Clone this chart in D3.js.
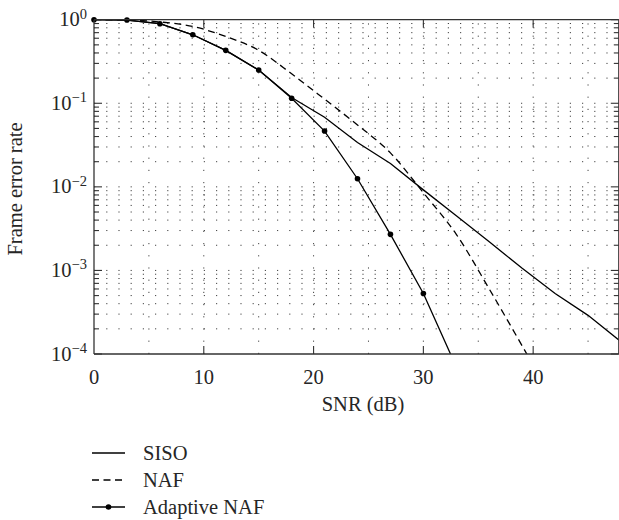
<!DOCTYPE html>
<html>
<head>
<meta charset="utf-8">
<script src="https://cdn.jsdelivr.net/npm/d3@7"></script>
<style>
  html, body { margin: 0; padding: 0; background: #fff; }
  svg { display: block; }
</style>
</head>
<body>
<svg id="chart" width="619" height="520"></svg>
<script>
// ---- data ----
const snr = [0, 3, 6, 9, 12, 15, 18, 21, 24, 27, 30, 33, 36, 39, 42, 45, 48];
const siso = [1, 0.99, 0.9, 0.66, 0.43, 0.25, 0.117, 0.068, 0.034, 0.019, 0.0092, 0.0045, 0.0022, 0.00106, 0.00053, 0.00029, 0.00014];
const snrNaf = [0, 3, 6, 9, 12, 15, 18, 21, 24, 27, 30, 33, 36, 39, 42];
const naf = [1, 0.995, 0.94, 0.83, 0.63, 0.43, 0.225, 0.112, 0.055, 0.0255, 0.0085, 0.0027, 0.0006, 0.000125, 0.000025];
const snrAdaptive = [0, 3, 6, 9, 12, 15, 18, 21, 24, 27, 30, 33];
const adaptive = [1, 0.99, 0.895, 0.66, 0.43, 0.25, 0.115, 0.0465, 0.0125, 0.0027, 0.00053, 0.00007];
const xTicks = [0, 10, 20, 30, 40];
const xGrid = [5, 10, 15, 20, 25, 30, 35, 40, 45];
const yDecades = [0, -1, -2, -3, -4];
const seriesNames = ["SISO", "NAF", "Adaptive NAF"];

// ---- layout ----
const FONT = "'Liberation Serif', 'Times New Roman', Times, 'DejaVu Serif', serif";
const TXT = "#262626";
const FS = 20.5;
const svg = d3.select("#chart");
const pL = 94, pR = 618.8, pT = 19.7, pB = 354;
const x = d3.scaleLinear().domain([0, 47.8]).range([pL, pR]);
const y = d3.scaleLog().domain([1e-4, 1]).range([pB, pT]);

svg.append("defs").append("clipPath").attr("id", "plotClip")
  .append("rect").attr("x", pL).attr("y", pT).attr("width", pR - pL).attr("height", pB - pT);

const minorVals = [];
for (let e = -4; e < 0; e++) for (let m = 1; m <= 9; m++) minorVals.push(m * Math.pow(10, e));

const gridColor = "#444";
const grid = svg.append("g");
grid.selectAll("line.h").data(minorVals.filter(v => v > 1e-4)).join("line")
  .attr("x1", pL).attr("x2", pR)
  .attr("y1", d => y(d)).attr("y2", d => y(d))
  .attr("stroke", gridColor).attr("stroke-width", 1)
  .attr("stroke-dasharray", "1.2,11");
grid.selectAll("line.v").data(xGrid).join("line")
  .attr("x1", d => x(d)).attr("x2", d => x(d))
  .attr("y1", pB).attr("y2", pT)
  .attr("stroke", gridColor).attr("stroke-width", 1)
  .attr("stroke-dasharray", "1.2,11");

// ---- curves ----
const line = d3.line().x(d => x(d[0])).y(d => y(d[1]));
const smooth = d3.line().x(d => x(d[0])).y(d => y(d[1])).curve(d3.curveMonotoneX);
const plot = svg.append("g").attr("clip-path", "url(#plotClip)");
plot.append("path").datum(snr.map((s, i) => [s, siso[i]]))
  .attr("d", line).attr("fill", "none").attr("stroke", "#000").attr("stroke-width", 1.3);
plot.append("path").datum(snrNaf.map((s, i) => [s, naf[i]]))
  .attr("d", smooth).attr("fill", "none").attr("stroke", "#000").attr("stroke-width", 1.3)
  .attr("stroke-dasharray", "7,4.5");
const adData = snrAdaptive.map((s, i) => [s, adaptive[i]]);
plot.append("path").datum(adData)
  .attr("d", line).attr("fill", "none").attr("stroke", "#000").attr("stroke-width", 1.3);
svg.append("g").selectAll("circle").data(adData.filter(d => d[1] >= 1e-4)).join("circle")
  .attr("cx", d => x(d[0])).attr("cy", d => y(d[1])).attr("r", 2.8).attr("fill", "#000");

// ---- axes frame and ticks ----
const axes = svg.append("g").attr("stroke", "#333").attr("stroke-width", 1.3);
axes.append("line").attr("x1", pL).attr("x2", pR).attr("y1", pB).attr("y2", pB);
axes.append("line").attr("x1", pL).attr("x2", pR).attr("y1", pT).attr("y2", pT);
axes.append("line").attr("x1", pL).attr("x2", pL).attr("y1", pT).attr("y2", pB);
axes.append("line").attr("x1", pR).attr("x2", pR).attr("y1", pT).attr("y2", pB);

xTicks.filter(t => t > 0).forEach(t => {
  axes.append("line").attr("x1", x(t)).attr("x2", x(t)).attr("y1", pB).attr("y2", pB - 8).attr("stroke-width", 1.1);
  axes.append("line").attr("x1", x(t)).attr("x2", x(t)).attr("y1", pT).attr("y2", pT + 8).attr("stroke-width", 1.1);
});
minorVals.concat([1]).forEach(v => {
  const isMajor = Math.abs(Math.log10(v) - Math.round(Math.log10(v))) < 1e-9;
  const len = isMajor ? 8 : 5;
  axes.append("line").attr("x1", pL).attr("x2", pL + len).attr("y1", y(v)).attr("y2", y(v)).attr("stroke-width", 1.1);
  axes.append("line").attr("x1", pR).attr("x2", pR - len).attr("y1", y(v)).attr("y2", y(v)).attr("stroke-width", 1.1);
});

// x tick labels
svg.append("g").selectAll("text").data(xTicks).join("text")
  .attr("x", d => x(d)).attr("y", 384)
  .attr("text-anchor", "middle").attr("font-size", FS)
  .attr("font-family", FONT).attr("fill", TXT)
  .text(d => d);

// y tick labels with superscripts
const yl = svg.append("g").selectAll("text").data(yDecades).join("text")
  .attr("x", 87).attr("y", d => y(Math.pow(10, d)) + 6.5)
  .attr("text-anchor", "end").attr("font-size", FS)
  .attr("font-family", FONT).attr("fill", TXT);
yl.append("tspan").text("10");
yl.append("tspan").attr("dy", -7.5).attr("font-size", 14.5).text(d => d === 0 ? "0" : "\u2212" + (-d));

// axis titles
svg.append("text").attr("x", 363).attr("y", 411).attr("text-anchor", "middle")
  .attr("font-size", FS).attr("font-family", FONT).attr("fill", TXT).text("SNR (dB)");
svg.append("text").attr("transform", "translate(22,189) rotate(-90)")
  .attr("text-anchor", "middle").attr("font-size", FS).attr("font-family", FONT).attr("fill", TXT)
  .text("Frame error rate");

// ---- legend ----
const legY = [453, 480, 507];
const lg = svg.append("g");
seriesNames.forEach((name, i) => {
  const ln = lg.append("line").attr("x1", 92).attr("x2", 125).attr("y1", legY[i]).attr("y2", legY[i])
    .attr("stroke", "#000").attr("stroke-width", 1.3);
  if (i === 1) ln.attr("stroke-dasharray", "7,4.5");
  if (i === 2) lg.append("circle").attr("cx", 108.5).attr("cy", legY[i]).attr("r", 2.8).attr("fill", "#000");
  lg.append("text").attr("x", 143).attr("y", legY[i] + 7).attr("font-size", FS)
    .attr("font-family", FONT).attr("fill", TXT).text(name);
});
</script>
</body>
</html>
